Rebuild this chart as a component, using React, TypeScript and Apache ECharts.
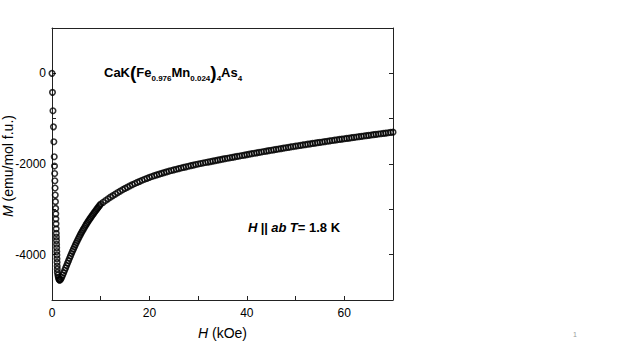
import React, { useEffect, useRef } from "react";
import * as echarts from "echarts";

// Low-field (Meissner) descending branch
const descH = [0, 0.1, 0.2, 0.3, 0.38, 0.46, 0.51, 0.55, 0.59, 0.63, 0.67, 0.71, 0.75, 0.78, 0.8, 0.83, 0.86, 0.88, 0.9, 0.92, 0.94, 0.96, 0.98, 1.0, 1.02, 1.04, 1.06, 1.08, 1.1, 1.2, 1.3, 1.4, 1.5];
const descM = [0, -420, -825, -1180, -1510, -1840, -2045, -2210, -2370, -2530, -2685, -2830, -2980, -3100, -3210, -3320, -3430, -3530, -3610, -3690, -3770, -3850, -3930, -4010, -4090, -4170, -4250, -4320, -4390, -4450, -4500, -4535, -4555];

// Rising branch up to 10 kOe
const riseH = [1.6, 1.8, 2.0, 2.2, 2.4, 2.6, 2.8, 3.0, 3.2, 3.4, 3.6, 3.8, 4.0, 4.2, 4.4, 4.6, 4.8, 5.0, 5.2, 5.4, 5.6, 5.8, 6.0, 6.2, 6.4, 6.6, 6.8, 7.0, 7.2, 7.4, 7.6, 7.8, 8.0, 8.2, 8.4, 8.6, 8.8, 9.0, 9.2, 9.4, 9.6, 9.8, 10.0];
const riseM = [-4562, -4543, -4500, -4450, -4398, -4345, -4292, -4240, -4186, -4132, -4079, -4027, -3975, -3926, -3878, -3830, -3783, -3737, -3693, -3650, -3607, -3565, -3524, -3486, -3448, -3411, -3374, -3338, -3304, -3271, -3238, -3206, -3174, -3144, -3114, -3084, -3054, -3025, -2996, -2968, -2940, -2912, -2885];

// 10.5 - 30 kOe
const midH = [10.5, 11, 11.5, 12, 12.5, 13, 13.5, 14, 14.5, 15, 15.5, 16, 16.5, 17, 17.5, 18, 18.5, 19, 19.5, 20, 20.5, 21, 21.5, 22, 22.5, 23, 23.5, 24, 24.5, 25, 25.5, 26, 26.5, 27, 27.5, 28, 28.5, 29, 29.5, 30];
const midM = [-2845, -2806, -2768, -2732, -2697, -2663, -2630, -2598, -2567, -2538, -2509, -2482, -2456, -2430, -2406, -2382, -2359, -2337, -2316, -2295, -2276, -2258, -2240, -2223, -2206, -2190, -2174, -2159, -2144, -2130, -2116, -2102, -2088, -2075, -2062, -2049, -2036, -2024, -2012, -2000];

// 30.5 - 70 kOe
const highH = [30.5, 31, 31.5, 32, 32.5, 33, 33.5, 34, 34.5, 35, 35.5, 36, 36.5, 37, 37.5, 38, 38.5, 39, 39.5, 40, 40.5, 41, 41.5, 42, 42.5, 43, 43.5, 44, 44.5, 45, 45.5, 46, 46.5, 47, 47.5, 48, 48.5, 49, 49.5, 50, 50.5, 51, 51.5, 52, 52.5, 53, 53.5, 54, 54.5, 55, 55.5, 56, 56.5, 57, 57.5, 58, 58.5, 59, 59.5, 60, 60.5, 61, 61.5, 62, 62.5, 63, 63.5, 64, 64.5, 65, 65.5, 66, 66.5, 67, 67.5, 68, 68.5, 69, 69.5, 70];
const highM = [-1989, -1978, -1967, -1957, -1946, -1936, -1925, -1915, -1904, -1894, -1883, -1873, -1863, -1853, -1843, -1833, -1823, -1813, -1803, -1793, -1783, -1773, -1763, -1754, -1744, -1735, -1725, -1716, -1706, -1697, -1687, -1678, -1669, -1660, -1651, -1642, -1633, -1624, -1615, -1606, -1597, -1589, -1580, -1572, -1563, -1555, -1546, -1538, -1530, -1522, -1514, -1506, -1498, -1490, -1482, -1474, -1466, -1458, -1450, -1443, -1435, -1428, -1420, -1413, -1405, -1398, -1390, -1383, -1375, -1368, -1360, -1353, -1346, -1339, -1332, -1325, -1318, -1311, -1304, -1297];

const xLabelValues = [0, 20, 40, 60];
const yLabelValues = [0, -2000, -4000];

const FONT = "Liberation Sans";
const AXIS_COLOR = "#222";

function pairs(h: number[], m: number[]) {
  return h.map((v, i) => [v, m[i]]);
}

export default function App() {
  const ref = useRef<HTMLDivElement>(null);
  useEffect(() => {
    if (!ref.current) return;
    const chart = echarts.init(ref.current, null, { renderer: "svg" });
    const data = [
      ...pairs(descH, descM),
      ...pairs(riseH, riseM),
      ...pairs(midH, midM),
      ...pairs(highH, highM),
    ];
    const lineStyle = { color: AXIS_COLOR, width: 1 };
    chart.setOption({
      animation: false,
      grid: {
        left: 52,
        top: 28,
        right: 230,
        bottom: 50,
        show: false,
        containLabel: false,
        outerBoundsMode: "none",
      },
      xAxis: [
        {
          type: "value",
          min: 0,
          max: 70,
          interval: 10,
          position: "bottom",
          axisLine: { show: true, onZero: false, lineStyle },
          axisTick: { show: true, inside: true, length: 4, lineStyle },
          axisLabel: {
            formatter: (v: number) => (xLabelValues.includes(v) ? String(v) : ""),
            color: "#000",
            fontSize: 12,
            fontFamily: FONT,
            margin: 7,
          },
          splitLine: { show: false },
          name: "{i|H} (kOe)",
          nameLocation: "middle",
          nameGap: 26,
          nameTextStyle: {
            color: "#000",
            fontSize: 14,
            fontFamily: FONT,
            rich: {
              i: { fontStyle: "italic", fontSize: 14, fontFamily: FONT, color: "#000" },
            },
          },
        },
        {
          type: "value",
          min: 0,
          max: 70,
          interval: 10,
          position: "top",
          axisLine: { show: true, onZero: false, lineStyle },
          axisTick: { show: false },
          axisLabel: { show: false },
          splitLine: { show: false },
        },
      ],
      yAxis: [
        {
          type: "value",
          min: -5000,
          max: 1000,
          interval: 1000,
          position: "left",
          axisLine: { show: true, onZero: false, lineStyle },
          axisTick: { show: true, inside: true, length: 4, lineStyle },
          axisLabel: {
            formatter: (v: number) => (yLabelValues.includes(v) ? String(v) : ""),
            color: "#000",
            fontSize: 12,
            fontFamily: FONT,
            margin: 6,
          },
          splitLine: { show: false },
        },
        {
          type: "value",
          min: -5000,
          max: 1000,
          interval: 1000,
          position: "right",
          axisLine: { show: true, onZero: false, lineStyle },
          axisTick: { show: true, inside: true, length: 4, lineStyle },
          axisLabel: { show: false },
          splitLine: { show: false },
        },
      ],
      series: [
        {
          type: "scatter",
          xAxisIndex: 0,
          yAxisIndex: 0,
          data,
          symbol: "circle",
          symbolSize: 5.5,
          itemStyle: { color: "rgba(255,255,255,0)", borderColor: "#000", borderWidth: 1.6 },
        },
      ],
      graphic: [
        {
          type: "text",
          x: 8,
          y: 166,
          rotation: Math.PI / 2,
          style: {
            text: "{i|M} (emu/mol f.u.)",
            align: "center",
            verticalAlign: "middle",
            fontSize: 14,
            fontFamily: FONT,
            fill: "#000",
            rich: {
              i: { fontStyle: "italic", fontSize: 14, fontFamily: FONT, fill: "#000" },
            },
          },
        },
        {
          type: "text",
          left: 104,
          top: 63,
          style: {
            text: "{m|CaK}{p|(}{m|Fe}{s|0.976}{m|Mn}{s|0.024}{p|)}{s|4}{m|As}{s|4}",
            rich: {
              m: { fontSize: 13, fontWeight: "bold", fontFamily: FONT, fill: "#000", lineHeight: 20, verticalAlign: "middle" },
              p: { fontSize: 19, fontWeight: "bold", fontFamily: FONT, fill: "#000", lineHeight: 20, verticalAlign: "middle" },
              s: { fontSize: 8, fontWeight: "bold", fontFamily: FONT, fill: "#000", lineHeight: 13, verticalAlign: "bottom" },
            },
          },
        },
        {
          type: "text",
          left: 248,
          top: 221,
          style: {
            text: "{bi|H} {b|||} {bi|ab} {bi|T}{b|= 1.8 K}",
            rich: {
              b: { fontSize: 13, fontWeight: "bold", fontFamily: FONT, fill: "#000" },
              bi: { fontSize: 13, fontWeight: "bold", fontStyle: "italic", fontFamily: FONT, fill: "#000" },
            },
          },
        },
        {
          type: "text",
          left: 573,
          top: 331,
          style: { text: "1", fontSize: 7, fontFamily: FONT, fill: "#999" },
        },
      ],
    });
    return () => chart.dispose();
  }, []);
  return (
    <div
      ref={ref}
      style={{ position: "fixed", left: 0, top: 0, width: 623, height: 350, background: "#fff" }}
    />
  );
}
